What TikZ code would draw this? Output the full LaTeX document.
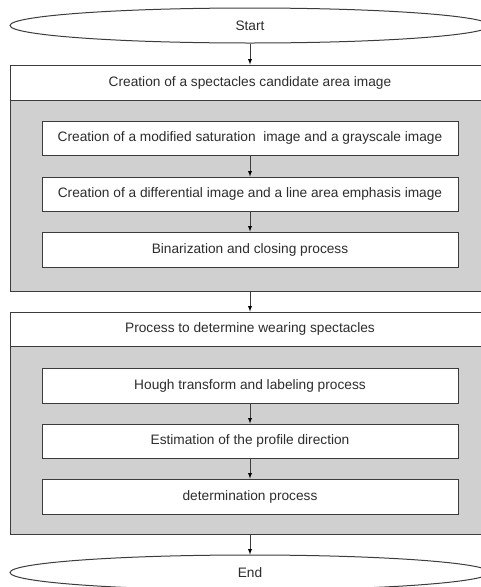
\documentclass[tikz,border=0pt]{standalone}
\usepackage{fontspec}
\setmainfont{Liberation Sans}
\usepackage{xcolor}
\usetikzlibrary{shapes.geometric}
\definecolor{panelgray}{RGB}{208,208,208}
\definecolor{linegray}{RGB}{60,60,60}
\definecolor{textgray}{RGB}{45,45,45}
\tikzset{>=latex}
\tikzset{
  terminal/.style={ellipse,draw=linegray,line width=1pt,minimum width=480pt,minimum height=35pt,inner sep=0pt},
  header/.style={rectangle,draw=linegray,fill=white,line width=1pt,minimum width=480pt,minimum height=35pt,inner sep=0pt},
  panel/.style={rectangle,draw=linegray,fill=panelgray,line width=1pt,minimum width=480pt,inner sep=0pt},
  stepbox/.style={rectangle,draw=linegray,fill=white,line width=1pt,minimum width=416pt,minimum height=35pt,inner sep=0pt},
  flow/.style={->,draw=linegray,line width=0.9pt}
}

\begin{document}
\begin{tikzpicture}[x=1pt,y=-1pt,font=\fontsize{13.7}{16}\selectfont,text=textgray]
      \clip (0,0) rectangle (481,587);
      \node[terminal] (start) at (250,25.5) {Start};
      \node[header] (head1) at (250,82.5) {Creation of a spectacles candidate area image};
      \node[panel,minimum height=191pt] (body1) at (250,195.5) {};
      \node[stepbox,minimum height=34pt] (s1) at (250,138) {Creation of a modified saturation~ image and a grayscale image};
      \node[stepbox,minimum height=34pt] (s2) at (250,194) {Creation of a differential image and a line area emphasis image};
      \node[stepbox] (s3) at (250,249.5) {Binarization and closing process};
      \node[header,minimum height=34pt] (head2) at (250,329) {Process to determine wearing spectacles};
      \node[panel,minimum height=188pt] (body2) at (250,440) {};
      \node[stepbox] (s4) at (250,385.5) {Hough transform and labeling process};
      \node[stepbox,minimum height=34pt] (s5) at (250,441) {Estimation of the profile direction};
      \node[stepbox] (s6) at (250,496.5) {determination process};
      \node[terminal] (stop) at (250,572.5) {End};
      \path[flow] (start) edge (head1);
      \path[flow] (s1) edge (s2);
      \path[flow] (s2) edge (s3);
      \path[flow] (body1) edge (head2);
      \path[flow] (s4) edge (s5);
      \path[flow] (s5) edge (s6);
      \path[flow] (body2) edge (stop);
    \end{tikzpicture}
\end{document}
